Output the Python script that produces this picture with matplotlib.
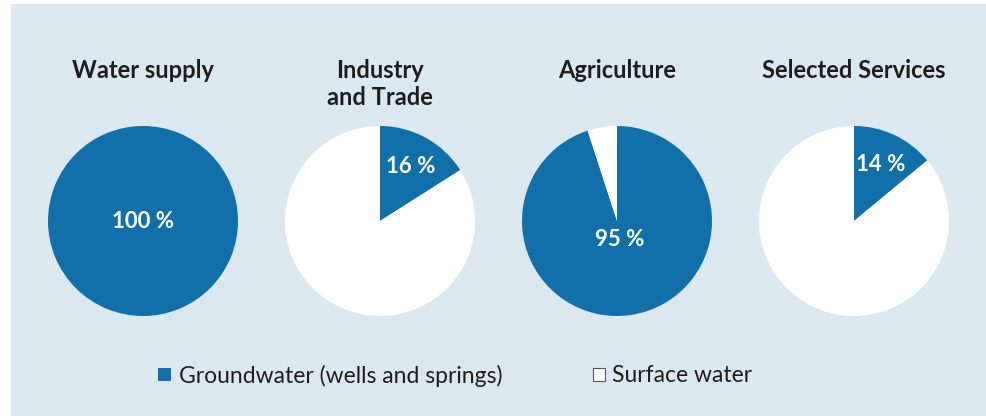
import math
import matplotlib.pyplot as plt
from matplotlib.patches import Rectangle

# shares of groundwater by sector (percent), remainder is surface water
sectors = ['Water supply', 'Industry\nand Trade', 'Agriculture', 'Selected Services']
groundwater = [100, 16, 95, 14]
legend_labels = ['Groundwater (wells and springs)', 'Surface water']

blue = '#1170a9'
panel = '#dce8ef'
text_col = '#1e1e1e'
W, H = 986, 416

fig = plt.figure(figsize=(W / 100, H / 100), dpi=100)
fig.patch.set_facecolor('white')
ax = fig.add_axes([0, 0, 1, 1])

# light blue panel behind everything
ax.add_patch(Rectangle((11, 0), W - 11, H - 4, color=panel, zorder=0))

centers_x = [143, 380, 617, 854]
cy = H - 221
radius = 95
label_r = [0, 0.66, 0.2, 0.66]

for i, (name, g) in enumerate(zip(sectors, groundwater)):
    cx = centers_x[i]
    ax.pie([g, 100 - g], colors=[blue, 'white'], startangle=90,
           counterclock=False, center=(cx, cy), radius=radius,
           wedgeprops=dict(linewidth=0), frame=True)
    # percentage label sits along the middle of the groundwater wedge
    mid = math.radians(90 - g * 3.6 / 2)
    lx = cx + label_r[i] * radius * math.cos(mid)
    ly = cy + label_r[i] * radius * math.sin(mid)
    ax.text(lx, ly, f'{g} %', color='white', fontsize=16, fontweight='bold',
            family='Lato', ha='center', va='center')
    # title, top-anchored
    ax.text(cx, H - 59, name, color=text_col, fontsize=17, fontweight='bold',
            family='Lato', ha='center', va='top', linespacing=1.2)

ax.set_xlim(0, W)
ax.set_ylim(0, H)
ax.set_aspect('equal')
ax.axis('off')

# legend drawn by hand
ax.add_patch(Rectangle((158, H - 381), 13, 13, facecolor=blue, edgecolor='none'))
ax.text(179, H - 376, legend_labels[0], fontsize=16.5, family='Lato',
        color=text_col, va='center', ha='left')
ax.add_patch(Rectangle((592.5, H - 381), 12, 13, facecolor='white',
                       edgecolor='#555555', linewidth=0.8))
ax.text(612, H - 376, legend_labels[1], fontsize=16.5, family='Lato',
        color=text_col, va='center', ha='left')

fig.savefig('out.png', dpi=100, facecolor='white')
